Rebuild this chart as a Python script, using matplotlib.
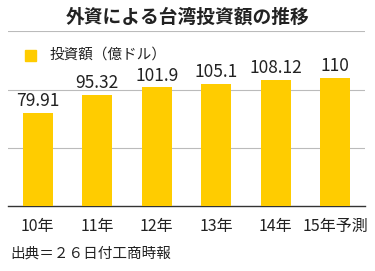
import matplotlib.pyplot as plt
import matplotlib.patches as mpatches

plt.rcParams['font.family'] = ['Noto Sans CJK JP', 'DejaVu Sans']

years = ["10年", "11年", "12年", "13年", "14年", "15年予測"]
values = [79.91, 95.32, 101.9, 105.1, 108.12, 110]
value_labels = ["79.91", "95.32", "101.9", "105.1", "108.12", "110"]

bar_color = "#FFCC00"
text_color = "#222222"

fig = plt.figure(figsize=(3.75, 2.71), dpi=100)
ax = fig.add_axes([0.0213, 0.2399, 0.9517, 0.6439])

x = list(range(len(years)))
bars = ax.bar(x, values, width=0.5, color=bar_color, zorder=3)

# Value labels above bars
for bar, label in zip(bars, value_labels):
    ax.text(bar.get_x() + bar.get_width() / 2, bar.get_height() + 2.5, label,
            ha='center', va='bottom', fontsize=12.5, color=text_color)

ax.set_xlim(-0.5, len(years) - 0.5)
ax.set_ylim(0, 150)
ax.set_yticks([50, 100, 150])
ax.yaxis.grid(True, color="#bbbbbb", linewidth=0.8, zorder=0)
ax.tick_params(axis='y', left=False, labelleft=False)
ax.tick_params(axis='x', bottom=False, pad=5)
ax.set_xticks(x)
ax.set_xticklabels(years, fontsize=11.5, color=text_color)
for side in ['top', 'right', 'left']:
    ax.spines[side].set_visible(False)
ax.spines['bottom'].set_color("#333333")
ax.spines['bottom'].set_linewidth(1.0)

fig.text(0.5, 1 - 17 / 271, "外資による台湾投資額の推移", ha='center', va='center',
         fontsize=13.5, fontweight='bold', color=text_color)

# Legend
fig.patches.append(mpatches.Rectangle((25 / 375, 1 - 61 / 271), 11 / 375, 11 / 271,
                                      transform=fig.transFigure, color=bar_color))
fig.text(50 / 375, 1 - 55 / 271, "投資額（億ドル）", ha='left', va='center',
         fontsize=10.5, color=text_color)

fig.text(10 / 375, 1 - 254 / 271, "出典＝２６日付工商時報", ha='left', va='center',
         fontsize=10.5, color=text_color)

fig.savefig("out.png", dpi=100)
